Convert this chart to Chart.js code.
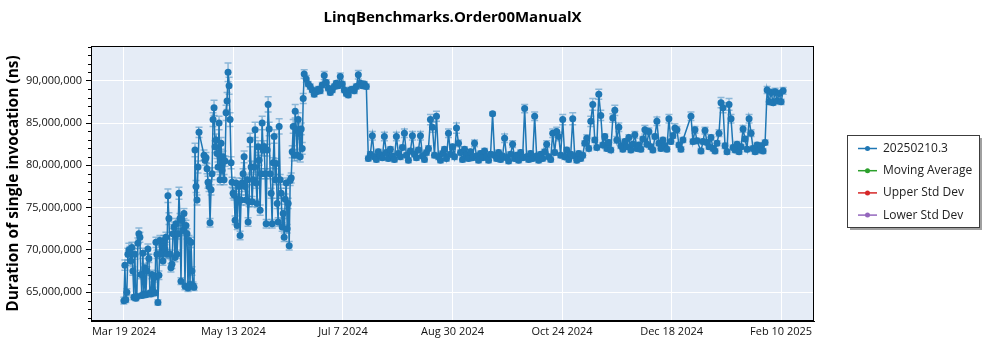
<!DOCTYPE html>
<html>
<head>
<meta charset="utf-8">
<script src="https://cdn.jsdelivr.net/npm/chart.js@4"></script>
<style>
  html, body { margin: 0; padding: 0; background: #fff; }
</style>
</head>
<body>
<canvas id="myChart" width="1000" height="350"></canvas>
<script>
// durations in millions of ns; x is days after Mar 19 2024
// two runs a day until mid June (null = no run that slot)
const earlyRuns = [
  64.0, 68.2, 64.1, 65.0, 69.5, 70.0, 69.8, 68.7, 70.3, 67.5,
  64.4, 69.5, 64.3, 64.5, 70.8, 71.9, 71.5, 67.1, 64.6, 69.6,
  64.8, 67.9, 64.7, 67.5, 70.1, 69.0, 64.9, 64.8, 67.1, 65.2,
  66.7, 64.9, 70.9, 69.5, 63.8, 67.0, 71.1, 69.5, 70.5, 68.7,
  71.1, 70.1, 71.5, 69.5, 76.4, 73.7, 69.5, 67.9, 68.3, 71.9,
  72.7, 69.1, 73.1, 69.5, 71.9, 76.7, 73.7, 66.3, 73.5, 72.3,
  74.3, 65.7, 72.9, 71.9, 65.5, 71.1, 65.9, 70.9, 67.5, 65.8,
  65.6, 81.8, 77.5, 75.9, 79.8, 83.9, null, null, null, null,
  81.2, 80.6, 80.9, 79.6, 78.0, 77.5, 73.2, 77.1, 79.0, 85.4,
  86.8, 82.2, 83.0, 81.4, 79.8, 85.0, 78.3, 82.6, 79.4, 81.0,
  78.3, 80.5, 86.2, 87.6, 91.0, 89.4, 85.4, 80.3, 78.0, 76.7,
  76.5, 73.5, 77.9, 72.9, 76.0, 77.5, 71.7, 75.9, 77.9, 79.0,
  81.0, 77.5, 75.9, 78.3, 73.3, 75.7, 83.0, 79.8, 75.7, 78.3,
  79.8, 84.2, 77.9, 75.5, 82.2, 80.6, 74.7, 79.0, 85.0, 81.8,
  82.2, 79.0, 73.1, 81.8, 87.2, 84.3, 79.0, 76.7, 73.1, 80.3,
  83.4, 78.3, 80.2, 75.5, 73.3, 84.6, 78.3, 76.7, 72.7, 74.3,
  71.5, 76.0, 77.9, 72.5, 75.5, 70.5, 78.2, 78.5, 81.6, 84.6,
  81.2, 86.4, 84.2, 81.2, 85.4, 83.8, 81.0, 84.3, 82.0, 87.9
];
const earlyErr = [
  .4, .6, .3, .4, .7, .8, .6, .5, .6, .5,
  .3, .6, .3, .3, .6, .7, .6, .5, .3, .6,
  .3, .5, .3, .5, .6, .5, .3, .3, .5, .4,
  .5, .3, .6, .5, .3, .5, .6, .5, .6, .5,
  .6, .5, .6, .5, .8, .7, .5, .5, .5, .6,
  .6, .5, .6, .5, .6, .7, .6, .4, .6, .6,
  .6, .4, .6, .6, .4, .6, .4, .6, .5, .4,
  .4, .8, .7, .6, .7, .6, 0, 0, 0, 0,
  .6, .6, .6, .6, .7, .6, .5, .6, .7, .8,
  .9, .7, .7, .6, .6, .8, .6, .7, .6, .7,
  .6, .6, .9, 1.0, 1.1, 1.0, .8, .7, .6, .6,
  .6, .5, .6, .5, .6, .6, .5, .6, .6, .6,
  .7, .6, .6, .6, .5, .6, .8, .7, .6, .6,
  .6, .9, .6, .5, .7, .6, .6, .6, .8, .7,
  .7, .6, .5, .7, .9, .8, .6, .6, .5, .6,
  .8, .6, .6, .6, .5, .9, .6, .6, .5, .6,
  .5, .6, .6, .5, .6, .5, .6, .6, .7, .8,
  .7, .8, .7, .6, .8, .7, .6, .7, .7, .6
];

// one run a day from Jun 17 2024 (day 90)
const lateStartDay = 90;
const lateRuns = [
  90.8, 90.2, 89.6, 89.3, 88.9, 88.4, 88.7, 89.0, 88.8, 89.5,
  90.6, 89.8, 89.1, 88.6, 88.9, 89.3, 89.7, 89.4, 90.5, 89.6,
  88.9, 88.5, 88.3, 88.9, 89.0, 88.8, 89.3, 90.7, 89.7, 89.4,
  89.6, 89.3, 80.8, 81.3, 83.5, 81.0, 80.7, 81.6, 81.2, 80.9,
  83.4, 81.5, 80.8, 81.9, 81.1, 80.7, 83.4, 81.4, 81.0, 82.1,
  83.8, 81.2, 80.6, 81.7, 83.5, 81.3, 80.9, 81.8, 83.5, 81.1,
  80.7, 81.5, 82.0, 85.4, 84.5, 81.2, 85.8, 81.0, 80.6, 81.4,
  81.9, 80.8, 83.8, 81.3, 82.2, 81.0, 84.4, 82.6, 81.5, 80.7,
  81.9, 81.2, 80.8, 81.6, 80.9, 82.6, 81.1, 80.6, 81.4, 80.9,
  81.7, 81.0, 80.6, 81.3, 86.1, 81.2, 80.8, 81.5, 80.7, 81.1,
  83.2, 80.9, 80.5, 81.3, 82.5, 80.8, 81.2, 80.6, 81.5, 80.9,
  86.7, 81.0, 80.7, 81.4, 80.8, 85.8, 81.1, 80.6, 81.3, 80.8,
  81.6, 82.5, 81.0, 80.7, 83.8, 81.5, 84.0, 83.4, 81.2, 85.4,
  81.0, 81.8, 80.7, 81.3, 85.5, 81.1, 80.6, 81.4, 80.8, 81.2,
  82.6, 83.2, 82.0, 85.2, 87.2, 83.0, 82.1, 88.4, 85.9, 82.4,
  83.4, 82.0, 82.7, 81.8, 85.6, 86.5, 83.0, 84.5, 82.3, 81.9,
  82.8, 82.2, 83.3, 81.8, 82.5, 83.6, 82.0, 82.4, 81.9, 83.1,
  84.2, 82.5, 84.0, 82.2, 81.8, 83.4, 85.2, 82.6, 82.0, 83.0,
  82.3, 81.9, 85.5, 82.8, 83.5, 84.4, 84.2, 82.4, 81.9, 83.0,
  null, null, null, 85.8, 82.8, 84.2, 82.9, null, 81.7, 82.8,
  84.1, 82.7, 82.2, 83.3, 82.0, 81.7, 82.6, 83.8, 87.4, 86.8,
  82.3, 81.6, 87.2, 85.5, 82.1, 81.8, 82.5, 81.6, 82.2, 84.3,
  83.1, 81.9, 85.5, 83.8, 82.0, 81.6, 82.4, 81.8, 82.3, 81.7,
  82.7, 88.9, 87.5, 88.6, 87.4, 88.7, 87.6, 88.5, 87.5, 88.8
];
const lateErr = [
  .5, .4, .3, .3, .3, .3, .3, .3, .3, .3,
  .5, .3, .3, .3, .3, .3, .3, .3, .4, .3,
  .3, .3, .3, .3, .3, .3, .3, .5, .3, .3,
  .3, .3, .3, .3, .5, .3, .3, .3, .3, .3,
  .5, .3, .3, .3, .3, .3, .5, .3, .3, .3,
  .5, .3, .3, .3, .5, .3, .3, .3, .5, .3,
  .3, .3, .3, .6, .6, .3, .6, .3, .3, .3,
  .3, .3, .5, .3, .3, .3, .6, .4, .3, .3,
  .3, .3, .3, .3, .3, .4, .3, .3, .3, .3,
  .3, .3, .3, .3, .2, .3, .3, .3, .3, .3,
  .5, .3, .3, .3, .4, .3, .3, .3, .3, .3,
  .5, .3, .3, .3, .3, .5, .3, .3, .3, .3,
  .3, .4, .3, .3, .5, .3, .5, .5, .3, .6,
  .3, .3, .3, .3, .7, .3, .3, .3, .3, .3,
  .3, .4, .3, .6, .7, .3, .3, .6, .6, .3,
  .3, .3, .3, .3, .5, .6, .4, .5, .3, .3,
  .3, .3, .3, .3, .3, .4, .3, .3, .3, .3,
  .5, .3, .4, .3, .3, .3, .5, .3, .3, .3,
  .3, .3, .5, .3, .3, .5, .4, .3, .3, .3,
  0, 0, 0, .5, .3, .4, .3, 0, .3, .3,
  .4, .3, .3, .3, .3, .3, .3, .4, .6, .6,
  .3, .3, .7, .5, .3, .3, .3, .3, .3, .4,
  .3, .3, .5, .4, .3, .3, .3, .3, .3, .3,
  .3, .4, .3, .4, .3, .4, .3, .4, .3, .4
];

const seriesNames = ['20250210.3', 'Moving Average', 'Upper Std Dev', 'Lower Std Dev'];
const seriesColors = ['#1f77b4', '#2ca02c', '#d62728', '#9467bd'];

const xTickDays = [0, 54.67, 109.33, 164, 218.67, 273.33, 328];
const xTickLabels = ['Mar 19 2024', 'May 13 2024', 'Jul 7 2024', 'Aug 30 2024', 'Oct 24 2024', 'Dec 18 2024', 'Feb 10 2025'];
const yTicks = [65e6, 70e6, 75e6, 80e6, 85e6, 90e6];

const points = [];
earlyRuns.forEach((v, i) => {
  points.push({ x: i / 2, y: v === null ? null : v * 1e6, err: earlyErr[i] * 1e6 });
});
lateRuns.forEach((v, i) => {
  points.push({ x: lateStartDay + i, y: v === null ? null : v * 1e6, err: lateErr[i] * 1e6 });
});

Chart.defaults.font.family = "'Open Sans', sans-serif";
Chart.defaults.font.size = 11;
Chart.defaults.color = '#111';

const plotBackground = {
  id: 'plotBackground',
  beforeDraw(chart) {
    const { ctx, chartArea: a } = chart;
    ctx.save();
    ctx.fillStyle = '#fff';
    ctx.fillRect(0, 0, chart.width, chart.height);
    ctx.fillStyle = '#e5ecf6';
    ctx.fillRect(a.left, a.top, a.right - a.left, a.bottom - a.top);
    ctx.restore();
  }
};

// vertical error bars with caps, under the line
const errorBars = {
  id: 'errorBars',
  beforeDatasetsDraw(chart) {
    const { ctx } = chart;
    const yScale = chart.scales.y;
    const meta = chart.getDatasetMeta(0);
    const data = chart.data.datasets[0].data;
    ctx.save();
    ctx.strokeStyle = 'rgba(31, 119, 180, 0.45)';
    ctx.lineWidth = 1.5;
    meta.data.forEach((el, i) => {
      const d = data[i];
      if (d.y === null || !d.err) return;
      const x = el.x;
      const top = yScale.getPixelForValue(d.y + d.err);
      const bot = yScale.getPixelForValue(d.y - d.err);
      ctx.beginPath();
      ctx.moveTo(x, top); ctx.lineTo(x, bot);
      ctx.moveTo(x - 3.5, top); ctx.lineTo(x + 3.5, top);
      ctx.moveTo(x - 3.5, bot); ctx.lineTo(x + 3.5, bot);
      ctx.stroke();
    });
    ctx.restore();
  }
};

// frame around the plot and the minor ticks on the value axis
const plotFrame = {
  id: 'plotFrame',
  afterDraw(chart) {
    const { ctx, chartArea: a } = chart;
    const yScale = chart.scales.y;
    ctx.save();
    ctx.strokeStyle = '#000';
    ctx.lineWidth = 1;
    ctx.strokeRect(a.left + 0.5, a.top + 0.5, a.right - a.left - 1, a.bottom - a.top - 1);
    ctx.beginPath();
    for (let v = Math.ceil(yScale.min / 1e6) * 1e6; v <= yScale.max; v += 1e6) {
      if (v % 5e6 === 0) continue;
      const py = Math.round(yScale.getPixelForValue(v)) + 0.5;
      ctx.moveTo(a.left - 3, py);
      ctx.lineTo(a.left, py);
    }
    ctx.stroke();
    ctx.restore();
  }
};

const legendBox = {
  id: 'legendBox',
  afterDraw(chart) {
    const { ctx } = chart;
    const bx = 847, by = 135, bw = 132, bh = 92;
    ctx.save();
    ctx.fillStyle = '#a0a0a0';
    ctx.fillRect(bx + 3, by + 3, bw, bh);
    ctx.fillStyle = '#fff';
    ctx.fillRect(bx, by, bw, bh);
    ctx.strokeStyle = '#3c3c3c';
    ctx.lineWidth = 1;
    ctx.strokeRect(bx + 0.5, by + 0.5, bw, bh);
    ctx.font = "12px 'Open Sans', sans-serif";
    ctx.textBaseline = 'middle';
    chart.data.datasets.forEach((ds, i) => {
      const ry = by + 13.5 + i * 22.2;
      ctx.strokeStyle = ds.borderColor;
      ctx.lineWidth = 1.5;
      ctx.beginPath();
      ctx.moveTo(bx + 11, ry);
      ctx.lineTo(bx + 30, ry);
      ctx.stroke();
      ctx.fillStyle = ds.borderColor;
      ctx.beginPath();
      ctx.arc(bx + 20.5, ry, 2.5, 0, Math.PI * 2);
      ctx.fill();
      ctx.fillStyle = '#222';
      ctx.fillText(ds.label, bx + 36, ry);
    });
    ctx.restore();
  }
};

const ctx = document.getElementById('myChart');

new Chart(ctx, {
  type: 'line',
  data: {
    datasets: seriesNames.map((name, i) => ({
      label: name,
      data: i === 0 ? points : [],
      borderColor: seriesColors[i],
      backgroundColor: seriesColors[i],
      borderWidth: 1.5,
      pointRadius: 3.5,
      pointBorderWidth: 0,
      pointBackgroundColor: seriesColors[i],
      spanGaps: true,
      tension: 0
    }))
  },
  options: {
    responsive: false,
    animation: false,
    events: [],
    layout: { padding: { left: 0, right: 186, top: 0, bottom: 0 } },
    plugins: {
      legend: { display: false },
      tooltip: { enabled: false },
      title: {
        display: true,
        fullSize: false,
        text: 'LinqBenchmarks.Order00ManualX',
        color: '#000',
        font: { size: 15, weight: 'bold' },
        padding: { top: 9, bottom: 19 }
      }
    },
    scales: {
      x: {
        type: 'linear',
        min: -16.4,
        max: 344.4,
        afterFit: scale => { scale.height = 29; },
        afterBuildTicks: scale => { scale.ticks = xTickDays.map(v => ({ value: v })); },
        ticks: {
          autoSkip: false,
          maxRotation: 0,
          padding: 1,
          color: '#111',
          callback: (value, index) => xTickLabels[index]
        },
        grid: { color: '#fff', lineWidth: 1, tickLength: 3, tickColor: 'rgba(0,0,0,0)' },
        border: { display: true, color: '#000', width: 1 }
      },
      y: {
        min: 61.6e6,
        max: 94.1e6,
        afterFit: scale => { scale.width = 91; },
        afterBuildTicks: scale => { scale.ticks = yTicks.map(v => ({ value: v })); },
        ticks: {
          padding: 4,
          color: '#111',
          callback: value => value.toLocaleString('en-US')
        },
        grid: { color: '#fff', lineWidth: 1, tickLength: 5, tickColor: '#000' },
        border: { display: true, color: '#000', width: 1 },
        title: {
          display: true,
          text: 'Duration of single invocation (ns)',
          color: '#000',
          font: { size: 15.5, weight: 'bold' },
          padding: { top: 4, bottom: 0 }
        }
      }
    }
  },
  plugins: [plotBackground, errorBars, plotFrame, legendBox]
});
</script>
</body>
</html>
